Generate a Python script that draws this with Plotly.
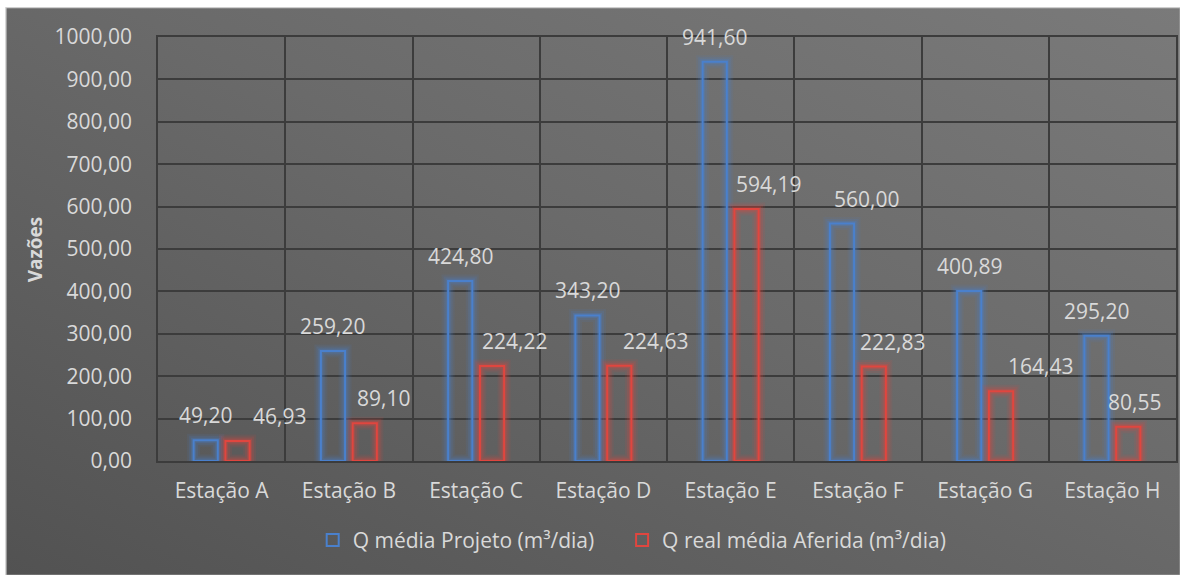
import base64
import plotly.graph_objects as go

# Flow per station: design mean vs. measured mean (m³/day)
stations = ["Estação A", "Estação B", "Estação C", "Estação D",
            "Estação E", "Estação F", "Estação G", "Estação H"]
q_projeto = [49.20, 259.20, 424.80, 343.20, 941.60, 560.00, 400.89, 295.20]
q_aferida = [46.93, 89.10, 224.22, 224.63, 594.19, 222.83, 164.43, 80.55]
y_ticks = [0, 100, 200, 300, 400, 500, 600, 700, 800, 900, 1000]

name_projeto = "Q média Projeto (m³/dia)"
name_aferida = "Q real média Aferida (m³/dia)"

# ---- styling ----
W, H = 1182, 575
M_L, M_R, M_T, M_B = 158, 4, 37, 114
PLOT_W = W - M_L - M_R
PLOT_H = H - M_T - M_B

BLUE = "#4a80cc"
RED = "#e0463f"
TXT = "#d9d9d9"
GRID = "#3c3c3c"
FONT = "Open Sans"

BAR_W = 0.19
SHIFT = 0.125          # distance of each bar centre from the category centre
OFF_BLUE = -SHIFT - BAR_W / 2
OFF_RED = SHIFT - BAR_W / 2

# horizontal nudges (px) for value labels that would otherwise collide
dx_projeto = [0, 0, 0, 0, 0, 25, 0, 0]
dx_aferida = [42, 19, 22, 36, 22, 19, 39, 6]

GLOW = [(13, 0.10), (9, 0.16), (5, 0.28)]


def fmt(v):
    return f"{v:.2f}".replace(".", ",")


fig = go.Figure()

for vals, color, off, name, leg in [
        (q_projeto, BLUE, OFF_BLUE, name_projeto, "legend"),
        (q_aferida, RED, OFF_RED, name_aferida, "legend2")]:
    # soft glow around the outline
    for lw, op in GLOW:
        fig.add_trace(go.Bar(
            x=stations, y=vals, width=BAR_W, offset=off,
            marker=dict(color="rgba(0,0,0,0)", line=dict(color=color, width=lw)),
            opacity=op, showlegend=False, hoverinfo="skip",
        ))
    fig.add_trace(go.Bar(
        x=stations, y=vals, width=BAR_W, offset=off, name=name, legend=leg,
        marker=dict(color="rgba(0,0,0,0)", line=dict(color=color, width=2)),
    ))

# value labels
annotations = []
for i, (v, dx) in enumerate(zip(q_projeto, dx_projeto)):
    annotations.append(dict(x=i - SHIFT, y=v, xref="x", yref="y", text=fmt(v),
                            showarrow=False, xshift=dx, yshift=25,
                            font=dict(family=FONT, size=21, color=TXT)))
for i, (v, dx) in enumerate(zip(q_aferida, dx_aferida)):
    annotations.append(dict(x=i + SHIFT, y=v, xref="x", yref="y", text=fmt(v),
                            showarrow=False, xshift=dx, yshift=25,
                            font=dict(family=FONT, size=21, color=TXT)))

# y-axis title
annotations.append(dict(x=(35 - M_L) / PLOT_W, y=0.5, xref="paper", yref="paper",
                        text="<b>Vazões</b>", textangle=-90, showarrow=False,
                        xanchor="center", yanchor="middle",
                        font=dict(family=FONT, size=19, color=TXT)))

# gradient chart background
svg = (
    f"<svg xmlns='http://www.w3.org/2000/svg' width='{W - 5}' height='{H - 7}' "
    f"viewBox='0 0 {W - 5} {H - 7}' preserveAspectRatio='none'>"
    "<defs><linearGradient id='g' x1='0' y1='1' x2='1' y2='0'>"
    "<stop offset='0' stop-color='#525252'/>"
    "<stop offset='0.55' stop-color='#6a6a6a'/>"
    "<stop offset='1' stop-color='#7a7a7a'/>"
    "</linearGradient></defs>"
    f"<rect x='0.5' y='0.5' width='{W - 5}' height='{H - 7}' fill='url(#g)' "
    "stroke='#cfcfcf' stroke-width='1.5'/></svg>"
)
bg_src = "data:image/svg+xml;base64," + base64.b64encode(svg.encode()).decode()

legend_style = dict(orientation="h", xanchor="left", y=-0.187, yanchor="middle",
                    bgcolor="rgba(0,0,0,0)", itemwidth=30,
                    font=dict(family=FONT, size=21, color=TXT))

fig.update_layout(
    width=W, height=H,
    margin=dict(l=M_L, r=M_R, t=M_T, b=M_B, pad=0),
    paper_bgcolor="white",
    plot_bgcolor="rgba(0,0,0,0)",
    barmode="overlay",
    separators=",.",
    font=dict(family=FONT, size=21, color=TXT),
    images=[dict(source=bg_src, xref="paper", yref="paper",
                 x=(5 - M_L) / PLOT_W, y=(H - M_B - 7) / PLOT_H,
                 sizex=(W - 5) / PLOT_W, sizey=(H - 7) / PLOT_H,
                 xanchor="left", yanchor="top", sizing="stretch", layer="below")],
    annotations=annotations,
    showlegend=True,
    legend=dict(x=(313 - M_L) / PLOT_W, **legend_style),
    legend2=dict(x=(623 - M_L) / PLOT_W, **legend_style),
    xaxis=dict(type="category", range=[-0.5, 7.5], tickson="boundaries",
               ticks="", showgrid=True, gridcolor=GRID, gridwidth=1.7,
               showline=True, linecolor=GRID, linewidth=1.7, mirror=True,
               tickfont=dict(family=FONT, size=21, color=TXT),
               ticklabelstandoff=10),
    yaxis=dict(range=[0, 1000], tickvals=y_ticks, tickformat=".2f",
               ticks="", showgrid=True, gridcolor=GRID, gridwidth=1.7,
               zeroline=False, showline=True, linecolor=GRID, linewidth=1.7,
               mirror=True, tickfont=dict(family=FONT, size=21, color=TXT),
               ticklabelstandoff=20),
)

fig.write_html("out.html")
